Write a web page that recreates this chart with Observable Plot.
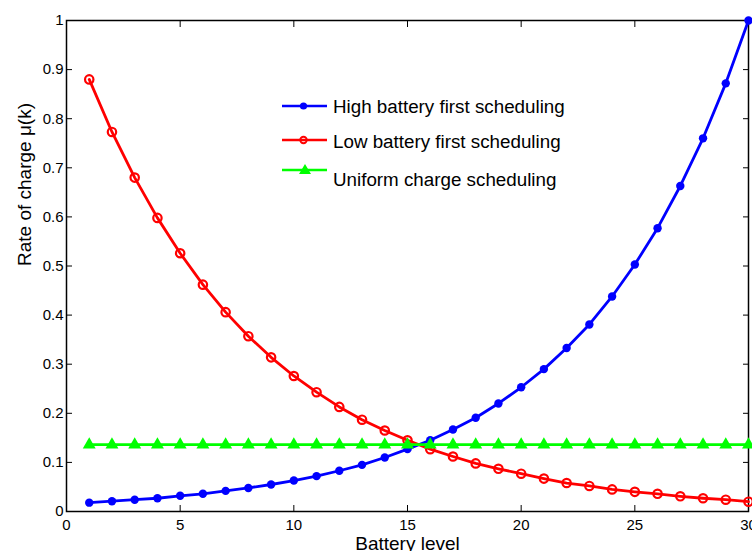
<!DOCTYPE html>
<html>
<head>
<meta charset="utf-8">
<script src="https://cdn.jsdelivr.net/npm/d3@7"></script>
<script src="https://cdn.jsdelivr.net/npm/@observablehq/plot@0.6"></script>
<style>
  body { margin: 0; background: #fff; }
  #wrap { position: relative; width: 752px; height: 551px; font-family: "Liberation Sans", Arial, Helvetica, sans-serif; }
  #legend { position: absolute; left: 0; top: 0; pointer-events: none; }
</style>
</head>
<body>
<div id="wrap"></div>
<script>
// ---- data ----
const batteryLevels = [1,2,3,4,5,6,7,8,9,10,11,12,13,14,15,16,17,18,19,20,21,22,23,24,25,26,27,28,29,30];
const highBatteryFirst = [0.018,0.021,0.024,0.027,0.032,0.036,0.042,0.048,0.055,0.063,0.072,0.083,0.095,0.110,0.127,0.145,0.167,0.191,0.220,0.253,0.290,0.333,0.381,0.438,0.503,0.577,0.663,0.760,0.872,1.000];
const lowBatteryFirst = [0.880,0.773,0.680,0.598,0.526,0.462,0.406,0.357,0.314,0.276,0.243,0.213,0.187,0.165,0.145,0.127,0.112,0.098,0.087,0.077,0.067,0.058,0.052,0.045,0.040,0.036,0.031,0.027,0.024,0.020];
const uniformCharge = [0.136,0.136,0.136,0.136,0.136,0.136,0.136,0.136,0.136,0.136,0.136,0.136,0.136,0.136,0.136,0.136,0.136,0.136,0.136,0.136,0.136,0.136,0.136,0.136,0.136,0.136,0.136,0.136,0.136,0.136];
const seriesNames = ["High battery first scheduling", "Low battery first scheduling", "Uniform charge scheduling"];
const seriesColors = ["#0000ff", "#ff0000", "#00ff00"];
const xTicks = [0,5,10,15,20,25,30];
const yTicks = [0,0.1,0.2,0.3,0.4,0.5,0.6,0.7,0.8,0.9,1];
const yTickLabels = ["0","0.1","0.2","0.3","0.4","0.5","0.6","0.7","0.8","0.9","1"];
const xLabel = "Battery level";
const yLabel = "Rate of charge \u03bc(k)";

const toRows = vals => batteryLevels.map((k, i) => ({k, v: vals[i]}));
const high = toRows(highBatteryFirst);
const low = toRows(lowBatteryFirst);
const uni = toRows(uniformCharge);

const FONT = '"Liberation Sans", Arial, Helvetica, sans-serif';

const chart = Plot.plot({
  width: 752,
  height: 551,
  marginLeft: 66,
  marginRight: 4,
  marginTop: 20,
  marginBottom: 40,
  style: { fontFamily: FONT, fontSize: "15px", color: "#000", background: "#fff", overflow: "visible" },
  x: { domain: [0, 30] },
  y: { domain: [0, 1] },
  marks: [
    Plot.frame({ stroke: "#000", strokeWidth: 1.5 }),
    Plot.axisX({ ticks: xTicks, anchor: "bottom", tickSize: -6, tickPadding: 13.5, label: null, fontSize: 15, tickFormat: d => String(d) }),
    Plot.axisX({ ticks: xTicks, anchor: "top", tickSize: -6, label: null, tickFormat: () => "" }),
    Plot.axisY({ ticks: yTicks, anchor: "left", tickSize: -6, tickPadding: 9, label: null, fontSize: 15, tickFormat: d => yTickLabels[yTicks.indexOf(d)] }),
    Plot.axisY({ ticks: yTicks, anchor: "right", tickSize: -6, label: null, tickFormat: () => "" }),
    Plot.line(high, { x: "k", y: "v", stroke: seriesColors[0], strokeWidth: 2.8 }),
    Plot.dot(high, { x: "k", y: "v", fill: seriesColors[0], r: 4.2 }),
    Plot.line(low, { x: "k", y: "v", stroke: seriesColors[1], strokeWidth: 2.8 }),
    Plot.dot(low, { x: "k", y: "v", stroke: seriesColors[1], fill: "none", strokeWidth: 2.2, r: 4.2 }),
    Plot.line(uni, { x: "k", y: "v", stroke: seriesColors[2], strokeWidth: 2.8 }),
    Plot.dot(uni, { x: "k", y: "v", symbol: "triangle", fill: seriesColors[2], stroke: "none", r: 4.8 }),
    Plot.text([xLabel], { frameAnchor: "bottom", dy: 32, lineAnchor: "middle", fontSize: 19, fill: "#000" }),
    Plot.text([yLabel], { frameAnchor: "left", dx: -42, rotate: -90, lineAnchor: "middle", fontSize: 19, fill: "#000" })
  ]
});

const wrap = document.getElementById("wrap");
wrap.appendChild(chart);

// ---- legend overlay ----
const ns = "http://www.w3.org/2000/svg";
const lg = document.createElementNS(ns, "svg");
lg.setAttribute("id", "legend");
lg.setAttribute("width", 752);
lg.setAttribute("height", 551);
const rows = [
  { lineY: 106, textY: 113.3, marker: "dot" },
  { lineY: 140, textY: 147.7, marker: "circle" },
  { lineY: 170, textY: 186, marker: "triangle" }
];
rows.forEach((row, i) => {
  const c = seriesColors[i];
  const ln = document.createElementNS(ns, "line");
  ln.setAttribute("x1", 282); ln.setAttribute("x2", 327);
  ln.setAttribute("y1", row.lineY); ln.setAttribute("y2", row.lineY);
  ln.setAttribute("stroke", c); ln.setAttribute("stroke-width", 2.6);
  lg.appendChild(ln);
  if (row.marker === "dot") {
    const m = document.createElementNS(ns, "circle");
    m.setAttribute("cx", 303.5); m.setAttribute("cy", row.lineY); m.setAttribute("r", 3.6);
    m.setAttribute("fill", c);
    lg.appendChild(m);
  } else if (row.marker === "circle") {
    const m = document.createElementNS(ns, "circle");
    m.setAttribute("cx", 303.5); m.setAttribute("cy", row.lineY); m.setAttribute("r", 3.2);
    m.setAttribute("fill", "none"); m.setAttribute("stroke", c); m.setAttribute("stroke-width", 2);
    lg.appendChild(m);
  } else {
    const m = document.createElementNS(ns, "path");
    const cx = 305, cy = row.lineY;
    m.setAttribute("d", `M${cx},${cy - 6}L${cx + 6},${cy + 4}L${cx - 6},${cy + 4}Z`);
    m.setAttribute("fill", c);
    lg.appendChild(m);
  }
  const t = document.createElementNS(ns, "text");
  t.setAttribute("x", 333); t.setAttribute("y", row.textY);
  t.setAttribute("font-family", FONT); t.setAttribute("font-size", 18.8);
  t.setAttribute("fill", "#000");
  t.textContent = seriesNames[i];
  lg.appendChild(t);
});
wrap.appendChild(lg);
</script>
</body>
</html>
